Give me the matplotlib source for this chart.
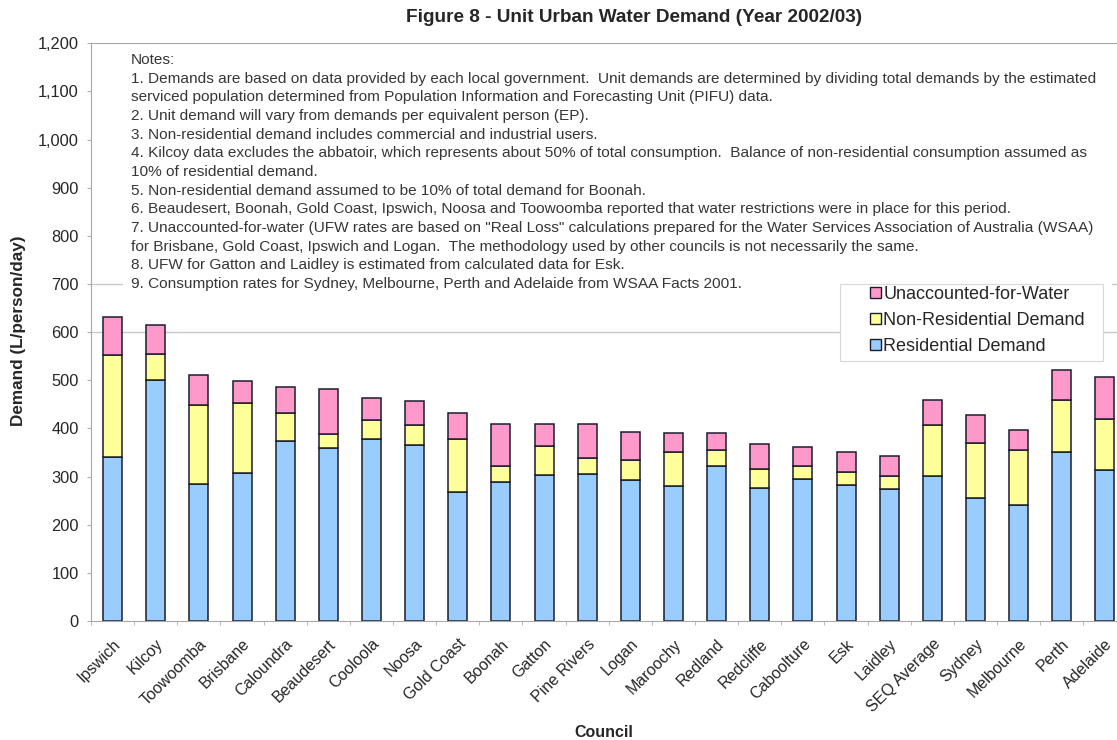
import numpy as np
import matplotlib.pyplot as plt
from matplotlib.patches import Patch, Rectangle

plt.rcParams['font.family'] = ['Liberation Sans', 'DejaVu Sans']

councils = ["Ipswich", "Kilcoy", "Toowoomba", "Brisbane", "Caloundra", "Beaudesert",
            "Cooloola", "Noosa", "Gold Coast", "Boonah", "Gatton", "Pine Rivers",
            "Logan", "Maroochy", "Redland", "Redcliffe", "Caboolture", "Esk",
            "Laidley", "SEQ Average", "Sydney", "Melbourne", "Perth", "Adelaide"]

# demand components, L/person/day
residential = [341, 500, 284, 308, 373, 360, 378, 366, 267, 288, 303, 305,
               293, 280, 321, 276, 294, 282, 275, 302, 255, 241, 352, 313]
non_residential = [211, 55, 165, 144, 58, 28, 39, 41, 110, 33, 60, 33,
                   41, 71, 35, 40, 28, 28, 26, 106, 115, 115, 107, 107]
ufw = [80, 60, 61, 47, 54, 94, 46, 49, 55, 88, 46, 71,
       58, 39, 34, 51, 40, 42, 41, 52, 57, 40, 63, 87]

grid_levels = [600, 700]

notes = [
    "Notes:",
    "1. Demands are based on data provided by each local government.  Unit demands are determined by dividing total demands by the estimated",
    "serviced population determined from Population Information and Forecasting Unit (PIFU) data.",
    "2. Unit demand will vary from demands per equivalent person (EP).",
    "3. Non-residential demand includes commercial and industrial users.",
    "4. Kilcoy data excludes the abbatoir, which represents about 50% of total consumption.  Balance of non-residential consumption assumed as",
    "10% of residential demand.",
    "5. Non-residential demand assumed to be 10% of total demand for Boonah.",
    "6. Beaudesert, Boonah, Gold Coast, Ipswich, Noosa and Toowoomba reported that water restrictions were in place for this period.",
    '7. Unaccounted-for-water (UFW rates are based on "Real Loss" calculations prepared for the Water Services Association of Australia (WSAA)',
    "for Brisbane, Gold Coast, Ipswich and Logan.  The methodology used by other councils is not necessarily the same.",
    "8. UFW for Gatton and Laidley is estimated from calculated data for Esk.",
    "9. Consumption rates for Sydney, Melbourne, Perth and Adelaide from WSAA Facts 2001.",
]

c_res = "#99CCFF"
c_non = "#FFFF99"
c_ufw = "#FF99CC"
edge = "#1c1c2a"
txt = "#262626"

fig = plt.figure(figsize=(11.17, 7.40), dpi=100)
ax = fig.add_axes([0.0815, 0.1608, 0.927, 0.7808])

x = np.arange(len(councils))
res = np.array(residential)
non = np.array(non_residential)
uf = np.array(ufw)

for g in grid_levels:
    ax.axhline(g, color="#c8c8c8", linewidth=1, zorder=0)

w = 0.44
ax.bar(x, res, w, color=c_res, edgecolor=edge, linewidth=1.1, zorder=2)
ax.bar(x, non, w, bottom=res, color=c_non, edgecolor=edge, linewidth=1.1, zorder=2)
ax.bar(x, uf, w, bottom=res + non, color=c_ufw, edgecolor=edge, linewidth=1.1, zorder=2)

ax.set_xlim(-0.5, len(councils) - 0.5)
ax.set_ylim(0, 1200)
ax.set_yticks(np.arange(0, 1201, 100))
ax.set_yticklabels([f"{v:,}" for v in range(0, 1201, 100)])
ax.set_xticks(x)
ax.set_xticklabels(councils, rotation=45, ha="right", rotation_mode="anchor")
ax.set_xticks(np.arange(-0.5, len(councils), 1), minor=True)
ax.tick_params(axis="x", which="major", length=0, pad=11, labelsize=11.5, labelcolor=txt)
ax.tick_params(axis="x", which="minor", length=3, color="#b0b0b0")
ax.tick_params(axis="y", length=3, color="#b0b0b0", pad=6, labelsize=11.8, labelcolor=txt)

for s in ["left", "bottom", "top", "right"]:
    ax.spines[s].set_color("#a8a8a8")

ax.set_ylabel("Demand (L/person/day)", fontsize=12.3, fontweight="bold", color=txt)
ax.yaxis.set_label_coords(-0.0705, 0.503)
ax.yaxis.label.set_va("center")
ax.set_xlabel("Council", fontsize=11.5, fontweight="bold", color=txt)
ax.xaxis.set_label_coords(0.495, -0.193)
ax.xaxis.label.set_va("center")
fig.text(0.5676, 0.977, "Figure 8 - Unit Urban Water Demand (Year 2002/03)",
         ha="center", va="center", fontsize=13.7, fontweight="bold", color=txt)

# notes panel (white backing hides the gridlines behind the text)
ax.add_patch(Rectangle((0.031, 0.572), 0.955, 0.422, transform=ax.transAxes,
                       facecolor="white", edgecolor="none", zorder=1))
for i, line in enumerate(notes):
    ax.text(0.0386, 0.9707 - i * 0.0323, line, transform=ax.transAxes,
            ha="left", va="center", fontsize=11.1, color="#363636", zorder=3)

# legend box
ax.add_patch(Rectangle((0.7233, 0.4508), 0.2539, 0.133, transform=ax.transAxes,
                       facecolor="white", edgecolor="#d8d8d8", linewidth=0.8, zorder=4))
handles = [Patch(facecolor=c_ufw, edgecolor=edge, label="Unaccounted-for-Water"),
           Patch(facecolor=c_non, edgecolor=edge, label="Non-Residential Demand"),
           Patch(facecolor=c_res, edgecolor=edge, label="Residential Demand")]
leg = ax.legend(handles=handles, loc="upper left", bbox_to_anchor=(0.7522, 0.580),
                fontsize=13, frameon=False, handlelength=0.6, handleheight=0.6,
                handletextpad=0.15, labelspacing=0.5, borderpad=0, borderaxespad=0,
                labelcolor=txt)
leg.set_zorder(5)

fig.savefig("out.png", dpi=100)
